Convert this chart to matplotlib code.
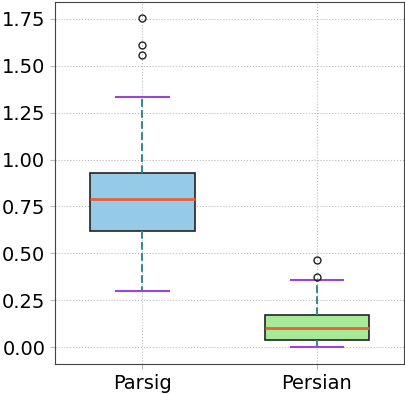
import matplotlib
matplotlib.use("Agg")
import matplotlib.pyplot as plt

labels = ["Parsig", "Persian"]
whislo = [0.30, 0.00]
q1 = [0.619, 0.037]
med = [0.79, 0.101]
q3 = [0.928, 0.171]
whishi = [1.334, 0.357]
fliers = [[1.755, 1.61, 1.558], [0.464, 0.374]]
box_colors = ["#95CBE6", "#A6E996"]

stats = []
for i in range(len(labels)):
    stats.append(dict(label=labels[i], whislo=whislo[i], q1=q1[i], med=med[i],
                      q3=q3[i], whishi=whishi[i], fliers=fliers[i]))

fig = plt.figure(figsize=(4.05, 3.94), dpi=100)
ax = fig.add_axes([0.136, 0.076, 0.862, 0.919])

bp = ax.bxp(stats, patch_artist=True, widths=0.6,
            boxprops=dict(edgecolor="#222222", linewidth=1.2),
            medianprops=dict(color="#E8603C", linewidth=2),
            whiskerprops=dict(color="#3E8A8A", linestyle="--", linewidth=1.5),
            capprops=dict(color="#9B45D6", linewidth=1.5),
            flierprops=dict(marker="o", markerfacecolor="none",
                            markeredgecolor="#222222", markersize=5))
for patch, c in zip(bp["boxes"], box_colors):
    patch.set_facecolor(c)

ax.set_ylim(-0.09, 1.84)
ax.set_xlim(0.5, 2.5)
ax.set_yticks([0, 0.25, 0.5, 0.75, 1.0, 1.25, 1.5, 1.75])
ax.grid(True, linestyle=":", color="#bbbbbb", linewidth=0.8)
ax.set_axisbelow(True)
ax.tick_params(axis="both", labelsize=14, color="#bbbbbb")
for s in ax.spines.values():
    s.set_color("#444444")

plt.savefig("out.png", dpi=100)
